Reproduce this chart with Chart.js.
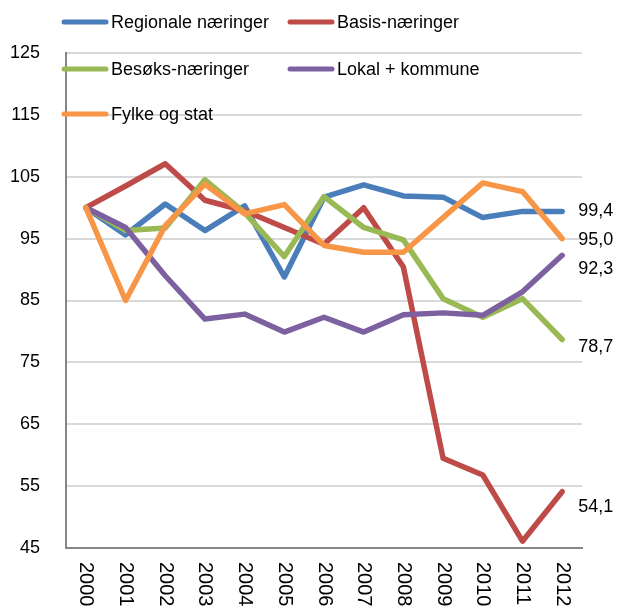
<!DOCTYPE html>
<html>
<head>
<meta charset="utf-8">
<script src="https://cdn.jsdelivr.net/npm/chart.js@4/dist/chart.umd.min.js"></script>
<style>
  body { margin: 0; background: #fff; }
  #wrap { width: 629px; height: 610px; position: relative; }
</style>
</head>
<body>
<div id="wrap"><canvas id="myChart"></canvas></div>
<script>
let years = ['2000','2001','2002','2003','2004','2005','2006','2007','2008','2009','2010','2011','2012'];

let regionale = [100, 95.6, 100.6, 96.3, 100.3, 88.8, 101.7, 103.7, 101.9, 101.7, 98.4, 99.4, 99.4];
let basis     = [100, 103.5, 107.1, 101.2, 99.5, 96.8, 94.1, 100.0, 90.4, 59.5, 56.8, 46.1, 54.1];
let besoks    = [100, 96.3, 96.7, 104.5, 99.2, 92.1, 101.8, 96.8, 94.8, 85.3, 82.3, 85.3, 78.7];
let lokal     = [100, 96.8, 89.0, 82.0, 82.8, 79.9, 82.3, 79.9, 82.7, 83.0, 82.6, 86.4, 92.3];
let fylke     = [100, 85.0, 97.1, 103.8, 99.0, 100.5, 93.9, 92.8, 92.8, 98.4, 104.0, 102.6, 95.0];

let yTicks = [45, 55, 65, 75, 85, 95, 105, 115, 125];

const FONT = '"Liberation Sans", Arial, sans-serif';

function serie(label, data, color, order) {
  return {
    label: label,
    data: data,
    borderColor: color,
    backgroundColor: color,
    borderWidth: 5.5,
    pointRadius: 0,
    tension: 0,
    borderJoinStyle: 'round',
    borderCapStyle: 'round',
    order: order
  };
}

let dataset2 = [
  serie('Regionale næringer', regionale, '#4a7ebb', 5),
  serie('Basis-næringer', basis, '#be4b48', 4),
  serie('Besøks-næringer', besoks, '#98b954', 3),
  serie('Lokal + kommune', lokal, '#7d60a0', 2),
  serie('Fylke og stat', fylke, '#f79646', 1)
];

// legend, year labels and end values are drawn by hand
const extras = {
  id: 'extras',
  afterDraw(chart) {
    const c = chart.ctx;
    const xs = chart.scales.x, ys = chart.scales.y;
    c.save();
    c.fillStyle = '#000';
    c.font = '18px ' + FONT;

    // legend, two columns
    const cols = [62, 288];
    const rows = [22, 69, 114];
    chart.data.datasets.forEach((ds, i) => {
      const x = cols[i % 2], y = rows[Math.floor(i / 2)];
      c.strokeStyle = ds.borderColor;
      c.lineWidth = 5;
      c.lineCap = 'round';
      c.beginPath();
      c.moveTo(x + 2, y);
      c.lineTo(x + 44, y);
      c.stroke();
      c.textAlign = 'left';
      c.textBaseline = 'middle';
      c.fillText(ds.label, x + 49, y + 1);
    });

    // year labels, rotated clockwise
    c.font = '20px ' + FONT;
    years.forEach((yr, i) => {
      c.save();
      c.translate(xs.getPixelForValue(i), 562);
      c.rotate(Math.PI / 2);
      c.textAlign = 'left';
      c.textBaseline = 'middle';
      c.fillText(yr, 0, 0);
      c.restore();
    });

    // last values
    c.font = '18px ' + FONT;
    const shift = [0, 15, 8, 14, 1];
    chart.data.datasets.forEach((ds, i) => {
      const last = ds.data.length - 1;
      const v = ds.data[last];
      c.textAlign = 'left';
      c.textBaseline = 'middle';
      c.fillText(v.toFixed(1).replace('.', ','), xs.getPixelForValue(last) + 16, ys.getPixelForValue(v) + shift[i]);
    });
    c.restore();
  }
};

let ctx = document.getElementById('myChart').getContext('2d');

let myChart = new Chart(ctx, {
  type: 'line',
  data: { labels: years, datasets: dataset2 },
  options: {
    responsive: true,
    maintainAspectRatio: false,
    animation: false,
    layout: { padding: { top: 53, right: 47, bottom: 62, left: -16 } },
    plugins: { legend: { display: false }, tooltip: { enabled: false } },
    scales: {
      x: {
        offset: true,
        grid: { display: false, drawTicks: false },
        border: { display: true, color: '#868686', width: 2 },
        ticks: { display: false }
      },
      y: {
        min: 45,
        max: 125,
        afterBuildTicks: (axis) => { axis.ticks = yTicks.map(v => ({ value: v })); },
        grid: { color: '#d9d9d9', lineWidth: 2, drawTicks: false },
        border: { display: true, color: '#868686', width: 2 },
        ticks: { color: '#000', padding: 26, font: { size: 18, family: FONT } }
      }
    }
  },
  plugins: [extras]
});
</script>
</body>
</html>
